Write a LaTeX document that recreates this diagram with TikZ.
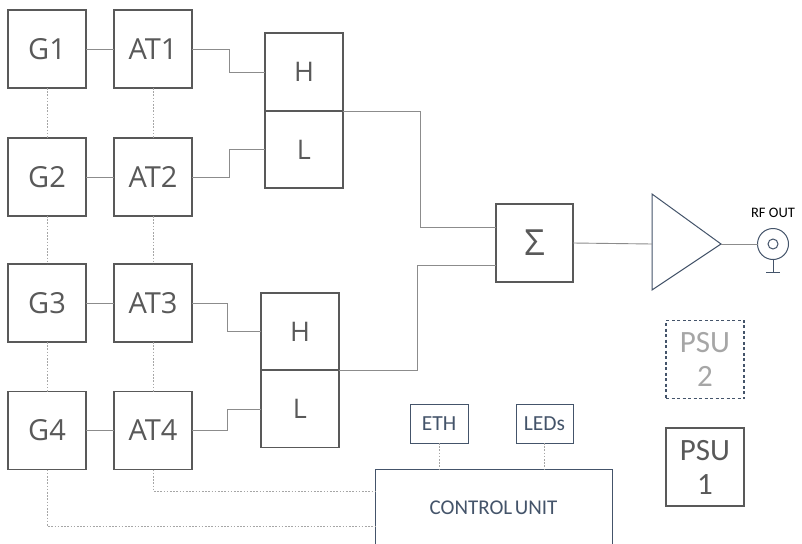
\documentclass[tikz,border=0pt]{standalone}
\usepackage{fontspec}
\setmainfont{Open Sans}
\newfontfamily\calfont{Carlito}
\definecolor{boxgray}{HTML}{595959}
\definecolor{linegray}{HTML}{8C8C8C}
\definecolor{dotgray}{HTML}{A6A6A6}
\definecolor{slate}{HTML}{44546A}
\definecolor{psugray}{HTML}{A6A6A6}
\begin{document}
\begin{tikzpicture}[x=1pt,y=-1pt,
  blk/.style={draw=boxgray, line width=1.1pt, text=boxgray, font=\fontsize{29}{29}\selectfont,
    minimum width=78pt, minimum height=78pt, inner sep=0pt, outer sep=0pt},
  hl/.style={blk, font=\fontsize{27}{27}\selectfont},
  small/.style={draw=slate, line width=1pt, text=slate, font=\calfont\fontsize{21.5}{21.5}\selectfont,
    minimum height=39pt, inner sep=0pt, outer sep=0pt},
  psu/.style={line width=1.1pt, font=\calfont\fontsize{31}{34}\selectfont, align=center,
    minimum width=78pt, minimum height=78pt, inner sep=0pt, outer sep=0pt},
  wire/.style={draw=linegray, line width=0.9pt},
  dotline/.style={draw=dotgray, line width=1pt, dash pattern=on 1.6pt off 1.6pt},
]
\useasboundingbox (0,0) rectangle (802,543);
\clip (0,0) rectangle (802,543);
\fill[white] (0,0) rectangle (802,543);

% generators and attenuators
\node[blk] (G1) at (47,49) {G1};
\node[blk] (G2) at (47,177) {G2};
\node[blk] (G3) at (47,303) {G3};
\node[blk] (G4) at (47,430.5) {G4};
\node[blk] (AT1) at (153,49) {AT1};
\node[blk] (AT2) at (153,177) {AT2};
\node[blk] (AT3) at (153,303) {AT3};
\node[blk] (AT4) at (153,430.5) {AT4};

% diplexers
\node[hl] (H1) at (304,72) {H};
\node[hl, minimum height=77pt] (L1) at (304,149.5) {L};
\node[hl, minimum height=77pt] (H2) at (300,331.5) {H};
\node[hl, minimum height=77pt] (L2) at (300,409) {L};

% combiner
\node[blk, minimum width=77pt, font=\fontsize{36}{36}\selectfont] (S) at (534.5,243) {Σ};

% amplifier
\coordinate (Atop) at (652,194);
\coordinate (Abot) at (652,290);
\coordinate (Aapex) at (721,244);
\coordinate (Ain) at (652,244);
\draw[draw=slate, line width=1pt, line join=miter] (Atop) -- (Aapex) -- (Abot) -- cycle;

% RF connector
\node[draw=slate, line width=1pt, circle, minimum size=31pt, inner sep=0pt, outer sep=0pt] (J) at (773,244) {};
\node[draw=slate, line width=1pt, circle, minimum size=10pt, inner sep=0pt] (Jin) at (J.center) {};
\coordinate (GND) at (773,272);
\node[font=\calfont\fontsize{14.5}{14.5}\selectfont, text=black] (RF) at (773,213) {RF OUT};

% control unit etc.
\node[draw=slate, line width=1pt, text=slate, font=\calfont\fontsize{21}{21}\selectfont,
  minimum width=237pt, minimum height=78pt, inner sep=0pt, outer sep=0pt] (CU) at (493.5,508) {CONTROL\hspace{0.12em}UNIT};
\node[small, minimum width=58pt] (ETH) at (439,423.5) {ETH};
\node[small, minimum width=57pt] (LED) at (544.5,423.5) {LEDs};

\node[psu, draw=slate, dashed, dash pattern=on 3pt off 2.5pt, text=psugray] (PSU2) at (705,359.5) {PSU\\2};
\node[psu, draw=boxgray, text=boxgray] (PSU1) at (705,467) {PSU\\1};

% signal wires
\draw[wire] (G1.east) -- (AT1.west);
\draw[wire] (G2.east) -- (AT2.west);
\draw[wire] (G3.east) -- (AT3.west);
\draw[wire] (G4.east) -- (AT4.west);
\draw[wire] (AT1.east) -- ++(37,0) |- (H1.west);
\draw[wire] (AT2.east) -- ++(37,0) |- (L1.west);
\draw[wire] (AT3.east) -- ++(35,0) |- (H2.west);
\draw[wire] (AT4.east) -- ++(35,0) |- (L2.west);
\draw[wire] (H1.south east) -- ++(77,0) |- ([yshift=16pt]S.west);
\draw[wire] (H2.south east) -- ++(78,0) |- ([yshift=-22pt]S.west);
\draw[wire] (S.east) -- (Ain);
\draw[wire] (Aapex) -- (J.west);
\draw[draw=slate, line width=1pt] (J.south) -- (GND);
\draw[draw=slate, line width=1pt] ([xshift=-7pt]GND) -- ([xshift=7pt]GND);

% dotted control lines
\draw[dotline] (G1.south) -- (G2.north);
\draw[dotline] (G2.south) -- (G3.north);
\draw[dotline] (G3.south) -- (G4.north);
\draw[dotline] (AT1.south) -- (AT2.north);
\draw[dotline] (AT2.south) -- (AT3.north);
\draw[dotline] (AT3.south) -- (AT4.north);
\draw[dotline] (AT4.south) |- ([yshift=17pt]CU.west);
\draw[dotline] (G4.south) |- ([yshift=-18pt]CU.west);
\draw[dotline] (ETH.south) -- (ETH.south |- CU.north);
\draw[dotline] (LED.south) -- (LED.south |- CU.north);
\end{tikzpicture}
\end{document}
